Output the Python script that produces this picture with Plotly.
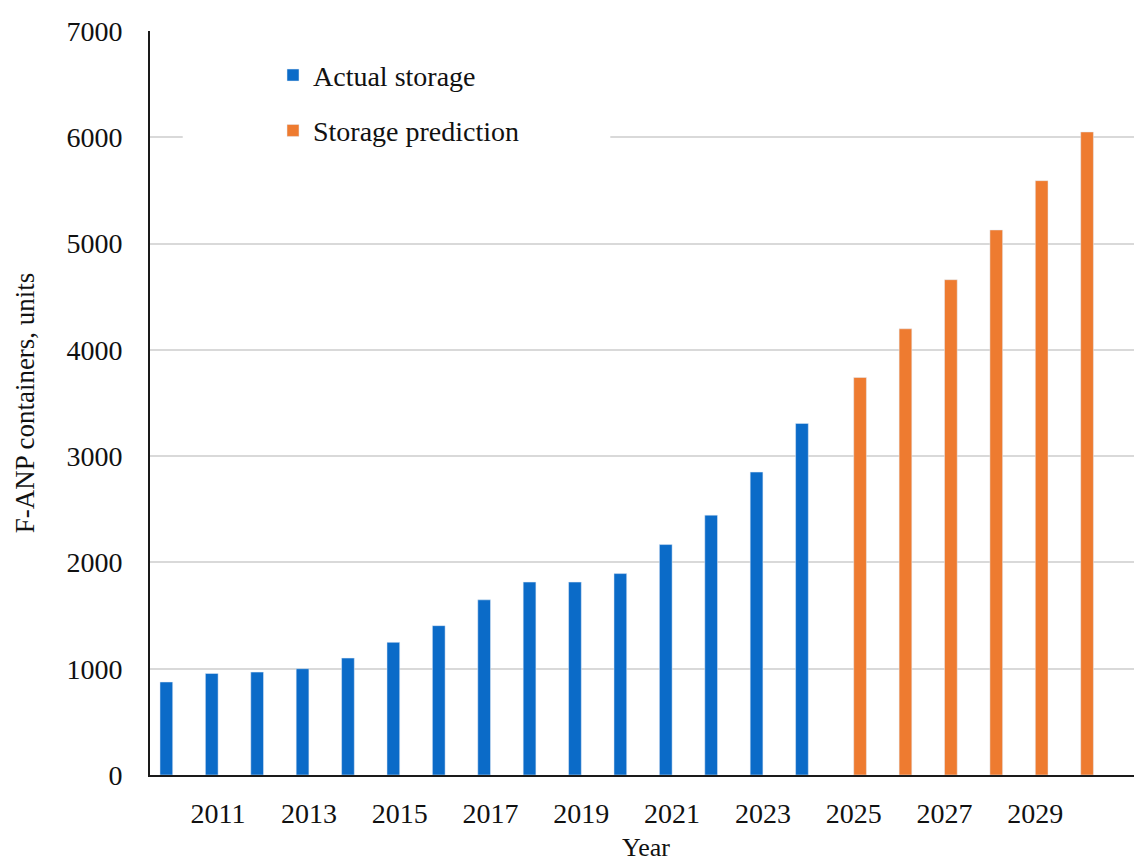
import plotly.graph_objects as go

years_actual = list(range(2010, 2025))
actual_storage = [875, 955, 968, 1000, 1100, 1248, 1405, 1648, 1815, 1815, 1895, 2168, 2445, 2850, 3308]

years_pred = list(range(2025, 2031))
storage_prediction = [3740, 4198, 4660, 5128, 5592, 6050]

tick_years = [2011, 2013, 2015, 2017, 2019, 2021, 2023, 2025, 2027, 2029]

all_years = years_actual + years_pred
# grouped bars: each year has a slot for both series, empty where there is no value
actual_y = [actual_storage[years_actual.index(y)] if y in years_actual else None for y in all_years]
pred_y = [storage_prediction[years_pred.index(y)] if y in years_pred else None for y in all_years]

serif = "Liberation Serif, Times New Roman, serif"

fig = go.Figure()
fig.add_trace(go.Bar(x=all_years, y=actual_y, name="Actual storage",
                     marker_color="#0B6BC8", legendgroup="a"))
fig.add_trace(go.Bar(x=all_years, y=pred_y, name="Storage prediction",
                     marker_color="#EE7B30", legendgroup="b"))

# white box behind the legend, covering the gridline like the original
fig.add_shape(type="rect", xref="paper", yref="paper", layer="above",
              x0=0.033, x1=0.464, y0=0.80, y1=0.975,
              fillcolor="white", line_width=0)

fig.update_layout(
    width=1142,
    height=861,
    margin=dict(l=142, r=8, t=17, b=94),
    paper_bgcolor="white",
    plot_bgcolor="white",
    barmode="group",
    bargap=0.44,
    bargroupgap=0,
    font=dict(family=serif, size=27, color="#111"),
    legend=dict(x=0.124, y=0.974, xanchor="left", yanchor="top",
                bgcolor="white", traceorder="grouped", tracegroupgap=16,
                font=dict(size=28), itemwidth=30),
    showlegend=True,
)

fig.update_xaxes(
    range=[2009.5, 2031.35],
    tickvals=tick_years,
    ticktext=[str(y) for y in tick_years],
    showgrid=False,
    showline=True, linecolor="#1a1a1a", linewidth=2,
    ticks="", ticklabelstandoff=12,
    tickfont=dict(size=28),
    title=dict(text="Year", standoff=10, font=dict(size=26)),
)
fig.update_yaxes(
    range=[0, 7000],
    dtick=1000,
    showgrid=True, gridcolor="#D9D9D9", gridwidth=1.5,
    showline=True, linecolor="#1a1a1a", linewidth=2,
    ticks="", ticklabelstandoff=20,
    tickfont=dict(size=28),
    zeroline=False,
    title=dict(text="F-ANP containers, units", standoff=24, font=dict(size=27)),
)

fig.write_html("out.html")
